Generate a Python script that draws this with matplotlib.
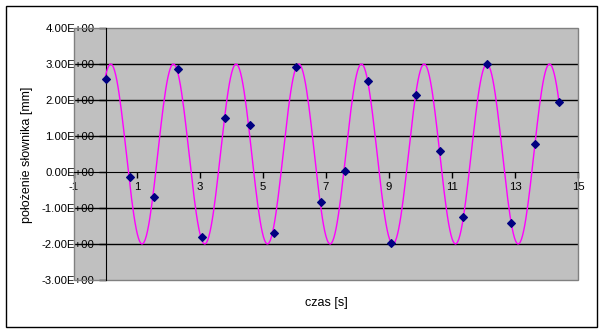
import numpy as np
import matplotlib
matplotlib.use("Agg")
import matplotlib.pyplot as plt
from matplotlib.patches import Rectangle
from matplotlib.ticker import FuncFormatter

# measured points
t_meas = [0.03, 0.79, 1.55, 2.29, 3.05, 3.80, 4.58, 5.34, 6.05, 6.85,
          7.59, 8.34, 9.07, 9.87, 10.61, 11.36, 12.10, 12.87, 13.63, 14.39]
y_meas = [2.58, -0.13, -0.69, 2.86, -1.80, 1.49, 1.30, -1.69, 2.91, -0.82,
          0.02, 2.53, -1.97, 2.15, 0.58, -1.26, 2.99, -1.42, 0.77, 1.95]

# model curve parameters (sinusoid fit drawn on the chart)
offset = 0.5
amplitude = 2.5
period = 1.99
t_peak = 0.166
t_start, t_end, n_samples = 0.0, 14.39, 400

x_ticks = [-1, 1, 3, 5, 7, 9, 11, 13, 15]
y_ticks = [-3, -2, -1, 0, 1, 2, 3, 4]
x_label = "czas [s]"
y_label = "położenie słownika [mm]"

plt.rcParams['font.family'] = ['Liberation Sans', 'DejaVu Sans']

W, H = 605, 334
fig = plt.figure(figsize=(W / 100, H / 100), dpi=100)
L, R, T, B = 74, 578, 28, 280
ax = fig.add_axes([L / W, 1 - B / H, (R - L) / W, (B - T) / H])
ax.set_facecolor('#C0C0C0')

t_curve = np.linspace(t_start, t_end, n_samples)
y_curve = offset + amplitude * np.cos(2 * np.pi * (t_curve - t_peak) / period)

for yv in y_ticks:
    if yv not in (y_ticks[0], y_ticks[-1], 0):
        ax.axhline(yv, color='black', lw=1, zorder=1)

ax.plot(t_curve, y_curve, color='#FF00FF', lw=1, zorder=3)
ax.plot(t_meas, y_meas, linestyle='none', marker='D', markersize=3.9,
        markeredgewidth=0.8, color='#000080', zorder=4)

ax.set_xlim(-1, 15)
ax.set_ylim(-3, 4)

for s in ('top', 'right'):
    ax.spines[s].set_visible(False)
ax.spines['left'].set_position(('data', 0))
ax.spines['bottom'].set_position(('data', 0))
ax.spines['left'].set_color('black')
ax.spines['bottom'].set_color('black')
ax.spines['left'].set_zorder(2)
ax.spines['bottom'].set_zorder(2)

ax.add_patch(Rectangle((0, 0), 1, 1, transform=ax.transAxes, fill=False,
                       edgecolor='#808080', lw=1, clip_on=False, zorder=2))

ax.set_xticks(x_ticks)
ax.set_yticks(y_ticks)
ax.xaxis.set_major_formatter(FuncFormatter(lambda v, p: f"{int(round(v))}"))
ax.yaxis.set_major_formatter(FuncFormatter(lambda v, p: f"{v:.2E}"))
ax.tick_params(axis='x', direction='out', length=4, width=1, pad=3,
               labelsize=8.2, colors='black')
ax.tick_params(axis='y', direction='out', length=5, width=1, pad=3,
               labelsize=8.2, colors='black')

fig.text((L + R) / 2 / W, 1 - 303 / H, x_label, ha='center', va='center',
         fontsize=9)
fig.text(27 / W, 1 - 155 / H, y_label, ha='center', va='center',
         rotation=90, fontsize=9)

fig.patches.append(Rectangle((6 / W, 1 - 327 / H), 591 / W, 321 / H,
                             transform=fig.transFigure, fill=False,
                             edgecolor='black', lw=1))

fig.savefig('out.png', dpi=100)
